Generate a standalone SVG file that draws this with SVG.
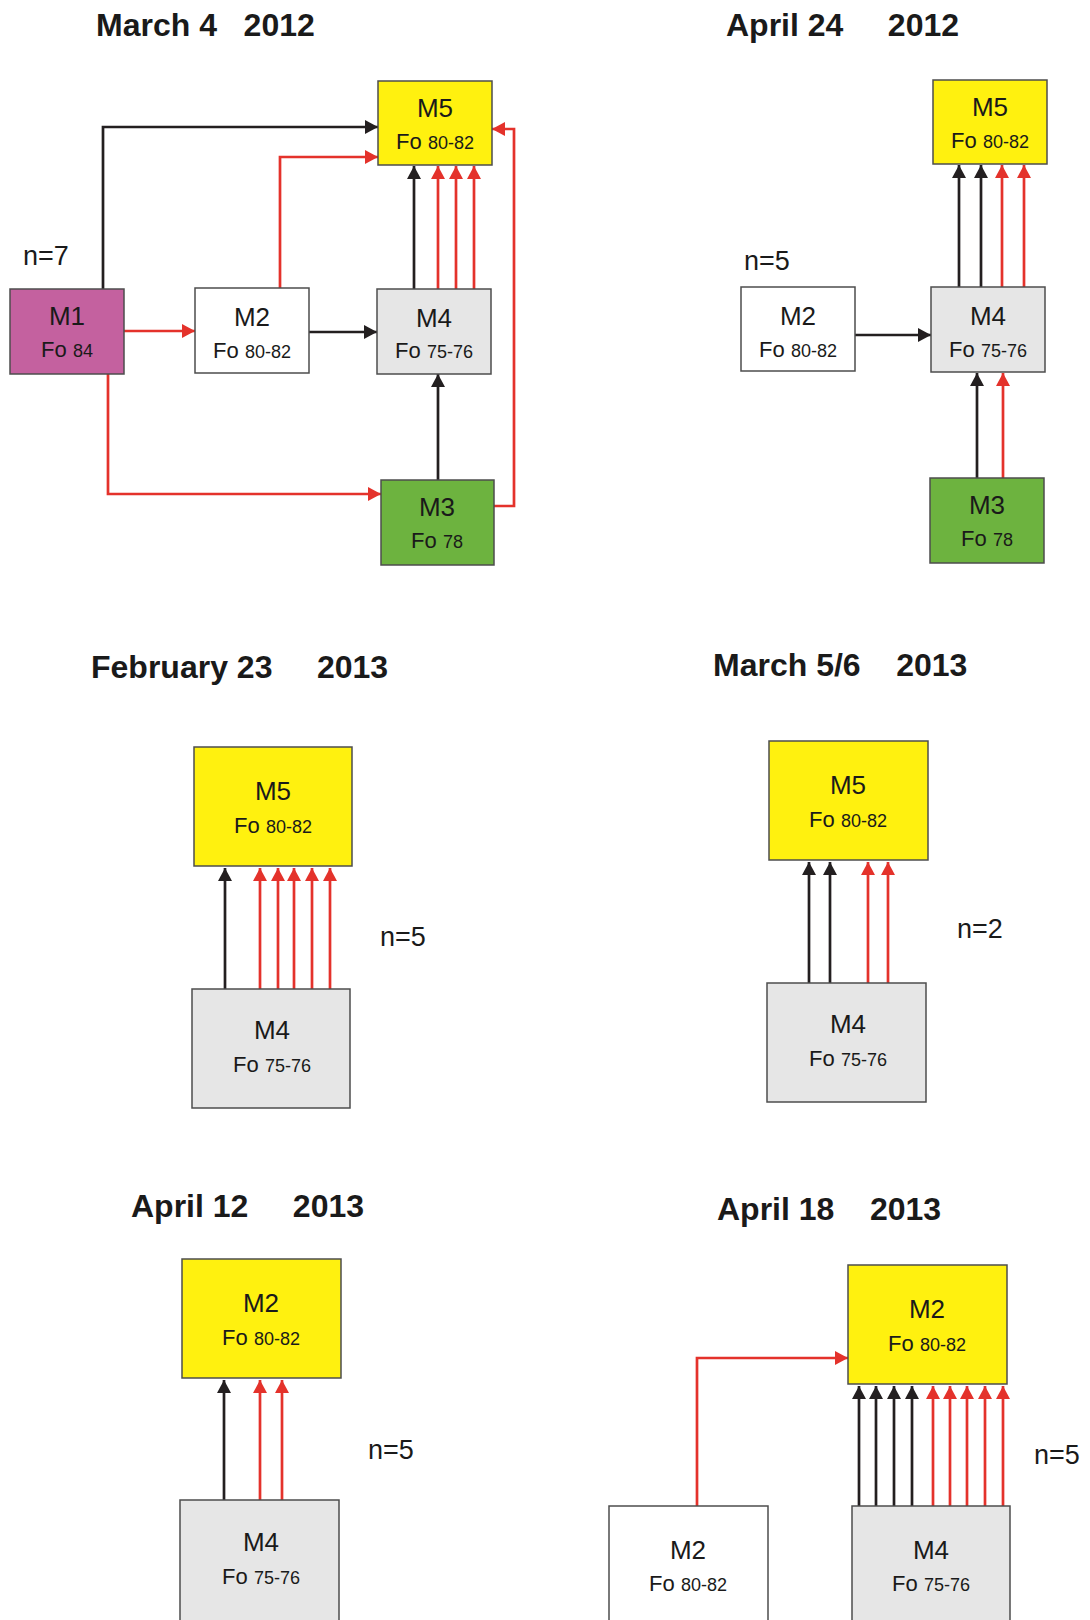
<svg xmlns="http://www.w3.org/2000/svg" width="1090" height="1620" viewBox="0 0 1090 1620">
<style>
.bg{fill:#ffffff}
.title{font-family:"Liberation Sans",Arial,sans-serif;font-weight:bold;font-size:32px;fill:#1a1a1a}
.n{font-family:"Liberation Sans",Arial,sans-serif;font-size:27px;fill:#1a1a1a}
.box{stroke:#4d4d4d;stroke-width:1.5}
.m{font-family:"Liberation Sans",Arial,sans-serif;font-size:26px;fill:#1a1a1a;text-anchor:middle}
.fo{font-family:"Liberation Sans",Arial,sans-serif;font-size:22px;fill:#1a1a1a;text-anchor:middle}
.num{font-size:18px}
.yel{fill:#fff10f}
.gry{fill:#e6e6e6}
.wht{fill:#ffffff}
.mag{fill:#c4619f}
.grn{fill:#6db33f}
.k{fill:none;stroke:#231f20;stroke-width:2.7;marker-end:url(#ak)}
.r{fill:none;stroke:#e4322b;stroke-width:2.7;marker-end:url(#ar)}
</style>
<defs>
<marker id="ak" markerUnits="userSpaceOnUse" markerWidth="13" markerHeight="14" refX="13" refY="7" orient="auto"><path d="M0,0 L13,7 L0,14 z" fill="#231f20"/></marker>
<marker id="ar" markerUnits="userSpaceOnUse" markerWidth="13" markerHeight="14" refX="13" refY="7" orient="auto"><path d="M0,0 L13,7 L0,14 z" fill="#e4322b"/></marker>
</defs>
<rect class="bg" x="0" y="0" width="1090" height="1620"/>

<g id="titles">
<text class="title" x="96" y="36" xml:space="preserve">March 4   2012</text>
<text class="title" x="726" y="36" xml:space="preserve">April 24     2012</text>
<text class="title" x="91" y="678" xml:space="preserve">February 23     2013</text>
<text class="title" x="713" y="676" xml:space="preserve">March 5/6    2013</text>
<text class="title" x="131" y="1217" xml:space="preserve">April 12     2013</text>
<text class="title" x="717" y="1220" xml:space="preserve">April 18    2013</text>
</g>

<g id="counts">
<text class="n" x="23" y="265">n=7</text>
<text class="n" x="744" y="270">n=5</text>
<text class="n" x="380" y="946">n=5</text>
<text class="n" x="957" y="938">n=2</text>
<text class="n" x="368" y="1459">n=5</text>
<text class="n" x="1034" y="1464">n=5</text>
</g>

<g id="connectors">
<!-- panel 1 -->
<path class="k" d="M103,289 V127 H378"/>
<path class="r" d="M280,288 V157 H378"/>
<path class="r" d="M124,331 H195"/>
<path class="k" d="M309,332 H377"/>
<path class="r" d="M108,374 V494 H381"/>
<path class="k" d="M438,480 V374"/>
<path class="r" d="M494,506 H514 V129 H492"/>
<path class="k" d="M414,289 V166"/>
<path class="r" d="M438,289 V166"/>
<path class="r" d="M456,289 V166"/>
<path class="r" d="M474,289 V166"/>
<!-- panel 2 -->
<path class="k" d="M959,287 V165"/>
<path class="k" d="M981,287 V165"/>
<path class="r" d="M1002,287 V165"/>
<path class="r" d="M1024,287 V165"/>
<path class="k" d="M854,335 H931"/>
<path class="k" d="M977,478 V373"/>
<path class="r" d="M1003,478 V373"/>
<!-- panel 3 -->
<path class="k" d="M225,989 V868"/>
<path class="r" d="M260,989 V868"/>
<path class="r" d="M278,989 V868"/>
<path class="r" d="M294,989 V868"/>
<path class="r" d="M312,989 V868"/>
<path class="r" d="M330,989 V868"/>
<!-- panel 4 -->
<path class="k" d="M809,983 V862"/>
<path class="k" d="M830,983 V862"/>
<path class="r" d="M868,983 V862"/>
<path class="r" d="M888,983 V862"/>
<!-- panel 5 -->
<path class="k" d="M224,1500 V1380"/>
<path class="r" d="M260,1500 V1380"/>
<path class="r" d="M282,1500 V1380"/>
<!-- panel 6 -->
<path class="k" d="M859,1506 V1386"/>
<path class="k" d="M876,1506 V1386"/>
<path class="k" d="M894,1506 V1386"/>
<path class="k" d="M912,1506 V1386"/>
<path class="r" d="M933,1506 V1386"/>
<path class="r" d="M950,1506 V1386"/>
<path class="r" d="M967,1506 V1386"/>
<path class="r" d="M985,1506 V1386"/>
<path class="r" d="M1003,1506 V1386"/>
<path class="r" d="M697,1506 V1358 H848"/>
</g>

<!-- panel 1 nodes -->
<g id="p1-M5"><rect class="box yel" x="378" y="81" width="114" height="84"/><text class="m" x="435" y="117">M5</text><text class="fo" x="435" y="149">Fo <tspan class="num">80-82</tspan></text></g>
<g id="p1-M1"><rect class="box mag" x="10" y="289" width="114" height="85"/><text class="m" x="67" y="325">M1</text><text class="fo" x="67" y="357">Fo <tspan class="num">84</tspan></text></g>
<g id="p1-M2"><rect class="box wht" x="195" y="288" width="114" height="85"/><text class="m" x="252" y="326">M2</text><text class="fo" x="252" y="358">Fo <tspan class="num">80-82</tspan></text></g>
<g id="p1-M4"><rect class="box gry" x="377" y="289" width="114" height="85"/><text class="m" x="434" y="327">M4</text><text class="fo" x="434" y="358">Fo <tspan class="num">75-76</tspan></text></g>
<g id="p1-M3"><rect class="box grn" x="381" y="480" width="113" height="85"/><text class="m" x="437" y="516">M3</text><text class="fo" x="437" y="548">Fo <tspan class="num">78</tspan></text></g>

<!-- panel 2 nodes -->
<g id="p2-M5"><rect class="box yel" x="933" y="80" width="114" height="84"/><text class="m" x="990" y="116">M5</text><text class="fo" x="990" y="148">Fo <tspan class="num">80-82</tspan></text></g>
<g id="p2-M2"><rect class="box wht" x="741" y="287" width="114" height="84"/><text class="m" x="798" y="325">M2</text><text class="fo" x="798" y="357">Fo <tspan class="num">80-82</tspan></text></g>
<g id="p2-M4"><rect class="box gry" x="931" y="287" width="114" height="85"/><text class="m" x="988" y="325">M4</text><text class="fo" x="988" y="357">Fo <tspan class="num">75-76</tspan></text></g>
<g id="p2-M3"><rect class="box grn" x="930" y="478" width="114" height="85"/><text class="m" x="987" y="514">M3</text><text class="fo" x="987" y="546">Fo <tspan class="num">78</tspan></text></g>

<!-- panel 3 nodes -->
<g id="p3-M5"><rect class="box yel" x="194" y="747" width="158" height="119"/><text class="m" x="273" y="800">M5</text><text class="fo" x="273" y="833">Fo <tspan class="num">80-82</tspan></text></g>
<g id="p3-M4"><rect class="box gry" x="192" y="989" width="158" height="119"/><text class="m" x="272" y="1039">M4</text><text class="fo" x="272" y="1072">Fo <tspan class="num">75-76</tspan></text></g>

<!-- panel 4 nodes -->
<g id="p4-M5"><rect class="box yel" x="769" y="741" width="159" height="119"/><text class="m" x="848" y="794">M5</text><text class="fo" x="848" y="827">Fo <tspan class="num">80-82</tspan></text></g>
<g id="p4-M4"><rect class="box gry" x="767" y="983" width="159" height="119"/><text class="m" x="848" y="1033">M4</text><text class="fo" x="848" y="1066">Fo <tspan class="num">75-76</tspan></text></g>

<!-- panel 5 nodes -->
<g id="p5-M2"><rect class="box yel" x="182" y="1259" width="159" height="119"/><text class="m" x="261" y="1312">M2</text><text class="fo" x="261" y="1345">Fo <tspan class="num">80-82</tspan></text></g>
<g id="p5-M4"><rect class="box gry" x="180" y="1500" width="159" height="125"/><text class="m" x="261" y="1551">M4</text><text class="fo" x="261" y="1584">Fo <tspan class="num">75-76</tspan></text></g>

<!-- panel 6 nodes -->
<g id="p6-M2y"><rect class="box yel" x="848" y="1265" width="159" height="119"/><text class="m" x="927" y="1318">M2</text><text class="fo" x="927" y="1351">Fo <tspan class="num">80-82</tspan></text></g>
<g id="p6-M2"><rect class="box wht" x="609" y="1506" width="159" height="120"/><text class="m" x="688" y="1559">M2</text><text class="fo" x="688" y="1591">Fo <tspan class="num">80-82</tspan></text></g>
<g id="p6-M4"><rect class="box gry" x="852" y="1506" width="158" height="120"/><text class="m" x="931" y="1559">M4</text><text class="fo" x="931" y="1591">Fo <tspan class="num">75-76</tspan></text></g>
</svg>
